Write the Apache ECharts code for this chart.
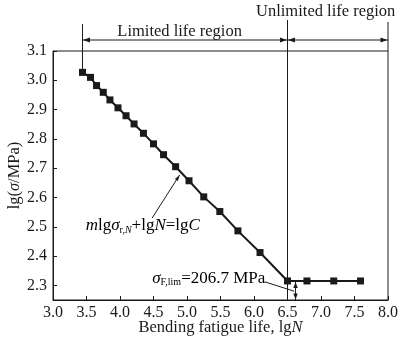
<!DOCTYPE html>
<html><head><meta charset="utf-8">
<script src="https://cdn.jsdelivr.net/npm/echarts@6/dist/echarts.min.js"></script>
<style>html,body{margin:0;padding:0;background:#fff}#c{width:400px;height:338px}</style>
</head><body><div id="c"></div>
<script>
// ---- data ----
const lgN = [3.44, 3.56, 3.65, 3.75, 3.85, 3.97, 4.09, 4.21, 4.35, 4.50, 4.65, 4.83, 5.03, 5.25, 5.49, 5.76, 6.09, 6.50, 6.79, 7.19, 7.59];
const lgSigma = [3.027, 3.010, 2.982, 2.959, 2.933, 2.906, 2.879, 2.851, 2.819, 2.783, 2.746, 2.705, 2.657, 2.602, 2.552, 2.486, 2.412, 2.315, 2.315, 2.315, 2.315];
const yTicks = [2.3, 2.4, 2.5, 2.6, 2.7, 2.8, 2.9, 3.0, 3.1];
const limitedLabel = 'Limited life region';
const unlimitedLabel = 'Unlimited life region';
const kneeN = 6.5;
const sigmaLim = 2.315;

const FONT = '"Liberation Serif", "Times New Roman", serif';
const INK = '#1a1a1a';
const chart = echarts.init(document.getElementById('c'), null, {renderer: 'canvas'});

function mkRich(fs) {
  return {
    i: {fontFamily: FONT, fontStyle: 'italic', fontSize: fs, color: INK},
    n: {fontFamily: FONT, fontSize: fs, color: INK},
    sub: {fontFamily: FONT, fontSize: 10, color: INK, padding: [8, 0, 0, 0]},
    subi: {fontFamily: FONT, fontSize: 10, fontStyle: 'italic', color: INK, padding: [8, 0, 0, 0]}
  };
}
const rich = mkRich(16.5);
const rich17 = mkRich(17);

chart.setOption({
  animation: false,
  backgroundColor: '#fff',
  grid: {left: 53, right: 12, top: 51, bottom: 38, show: true, borderColor: INK, borderWidth: 1, containLabel: false, outerBoundsMode: 'none'},
  xAxis: {
    type: 'value', min: 3, max: 8, interval: 0.5,
    name: '{n|Bending fatigue life, lg}{i|N}', nameLocation: 'middle', nameGap: 19, nameMoveOverlap: false,
    nameTextStyle: {rich: rich, verticalAlign: 'top'},
    axisLine: {lineStyle: {color: INK, width: 1}},
    axisTick: {inside: true, length: 4, lineStyle: {color: INK}},
    axisLabel: {margin: 5, fontFamily: FONT, fontSize: 16, color: INK, formatter: v => v.toFixed(1)},
    splitLine: {show: false}
  },
  yAxis: {
    type: 'value', min: 2.25, max: 3.1,
    name: '{n|lg(}{i|σ}{n|/MPa)}', nameLocation: 'middle', nameGap: 30, nameRotate: 90, nameMoveOverlap: false,
    nameTextStyle: {rich: rich, verticalAlign: 'bottom'},
    axisLine: {lineStyle: {color: INK, width: 1}},
    axisTick: {inside: true, length: 4, customValues: yTicks, lineStyle: {color: INK}},
    axisLabel: {margin: 6, fontFamily: FONT, fontSize: 16, color: INK, customValues: yTicks, formatter: v => v.toFixed(1)},
    splitLine: {show: false}
  },
  series: [{
    type: 'line',
    data: lgN.map((x, i) => [x, lgSigma[i]]),
    symbol: 'rect', symbolSize: 7,
    itemStyle: {color: INK},
    lineStyle: {color: INK, width: 2},
    z: 5
  }]
});

function P(x, y) { return chart.convertToPixel({xAxisIndex: 0, yAxisIndex: 0}, [x, y]); }
function seg(a, b, w) { return {type: 'line', shape: {x1: a[0], y1: a[1], x2: b[0], y2: b[1]}, style: {stroke: INK, lineWidth: w || 1}, z: 10}; }
function head(tip, dx, dy, len, half) {
  const bx = tip[0] - dx * len, by = tip[1] - dy * len;
  const px = -dy * half, py = dx * half;
  return {type: 'polygon', shape: {points: [[tip[0], tip[1]], [bx + px, by + py], [bx - px, by - py]]}, style: {fill: INK}, z: 10};
}

const arrowY = 3.1375;
const g = [];
g.push(seg(P(lgN[0], 3.192), P(lgN[0], lgSigma[0])));
g.push(seg(P(kneeN, 3.206), P(kneeN, 2.25)));
g.push(seg(P(8.0, 3.199), P(8.0, 3.1)));
const a1 = P(lgN[0], arrowY), a2 = P(kneeN, arrowY), a3 = P(8.0, arrowY);
g.push(seg(a1, a2));
g.push(head([a1[0] + 0.5, a1[1]], -1, 0, 7, 2.5));
g.push(head([a2[0] - 0.5, a2[1]], 1, 0, 7, 2.5));
g.push(seg(a2, a3));
g.push(head([a2[0] + 0.5, a2[1]], -1, 0, 7, 2.5));
g.push(head([a3[0] - 0.5, a3[1]], 1, 0, 7, 2.5));
const t1 = P(4.89, 3.165), t2 = P(7.07, 3.233);
g.push({type: 'text', x: t1[0], y: t1[1], style: {text: limitedLabel, font: '16.5px ' + FONT, fill: INK, align: 'center', verticalAlign: 'middle'}, z: 10});
g.push({type: 'text', x: t2[0], y: t2[1], style: {text: unlimitedLabel, font: '16.5px ' + FONT, fill: INK, align: 'center', verticalAlign: 'middle'}, z: 10});
const f = P(4.34, 2.503);
g.push({type: 'text', x: f[0], y: f[1], style: {text: '{i|m}{n|lg}{i|σ}{sub|r,}{subi|N}{n|+lg}{i|N}{n|=lg}{i|C}', rich: rich17, align: 'center', verticalAlign: 'middle'}, z: 10});
const l1 = P(4.48, 2.53), l2 = P(4.89, 2.677);
g.push(seg(l1, l2));
{ const dx = l2[0] - l1[0], dy = l2[1] - l1[1], L = Math.hypot(dx, dy); g.push(head(l2, dx / L, dy / L, 6, 1.8)); }
const s = P(4.48, 2.323);
g.push({type: 'text', x: s[0], y: s[1], style: {text: '{i|σ}{sub|F,lim}{n|=206.7 MPa}', rich: rich17, align: 'left', verticalAlign: 'middle'}, z: 10});
g.push(seg(P(6.16, 2.312), P(6.6, 2.28)));
const d1 = P(6.62, sigmaLim), d2 = P(6.62, 2.25);
g.push(seg(d1, d2));
g.push(head([d1[0], d1[1] + 1], 0, -1, 6, 2.2));
g.push(head([d2[0], d2[1] - 0.5], 0, 1, 6, 2.2));

chart.setOption({graphic: g});
</script>
</body></html>
